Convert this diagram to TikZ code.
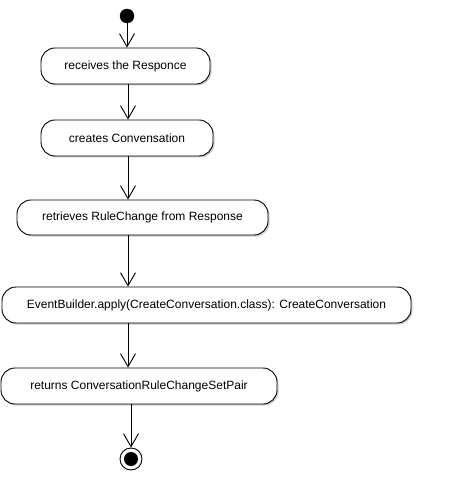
\documentclass[tikz,border=0pt]{standalone}
\usepackage{fontspec}
\setmainfont{Liberation Sans}
\usetikzlibrary{arrows.meta,shadows}
\begin{document}
\begin{tikzpicture}[x=1pt,y=-1pt,
  act/.style={draw, line width=0.9pt, fill=white, rounded corners=14pt, minimum height=36pt,
    inner sep=0pt, font=\fontsize{12}{14}\selectfont,
    drop shadow={shadow xshift=1.5pt, shadow yshift=-1.5pt, fill=black!25, opacity=0.8}},
  flow/.style={line width=0.9pt, -{Straight Barb[length=13pt,width=15pt,line width=0.9pt]}}]
\useasboundingbox (0,0) rectangle (448,502);
\node[circle, fill=black, draw, minimum size=14pt, inner sep=0pt] (start) at (127,16) {};
\node[act, minimum width=169pt] (n1) at (125.5,66) {receives the Responce};
\node[act, minimum width=172pt] (n2) at (127,138) {creates Convensation};
\node[act, minimum width=251pt, minimum height=35pt] (n3) at (142.5,217.5) {retrieves RuleChange from Response};
\node[act, minimum width=409pt] (n4) at (206.5,305) {EventBuilder.apply(CreateConversation.class): CreateConversation};
\node[act, minimum width=276pt] (n5) at (139,386) {returns ConversationRuleChangeSetPair};
\node[circle, draw, line width=0.9pt, fill=white, minimum size=22pt, inner sep=0pt] (end) at (131,459) {};
\node[circle, fill=black, minimum size=14pt, inner sep=0pt] (endin) at (end.center) {};
\coordinate (c1) at (127,0);
\coordinate (c2) at (128,0);
\draw[flow] (start.south) -- (start.south |- n1.north);
\draw[flow] (c2 |- n1.south) -- (c2 |- n2.north);
\draw[flow] (c2 |- n2.south) -- (c2 |- n3.north);
\draw[flow] (c2 |- n3.south) -- (c2 |- n4.north);
\draw[flow] (c2 |- n4.south) -- (c2 |- n5.north);
\draw[flow] (end.north |- n5.south) -- (end.north);
\end{tikzpicture}
\end{document}
